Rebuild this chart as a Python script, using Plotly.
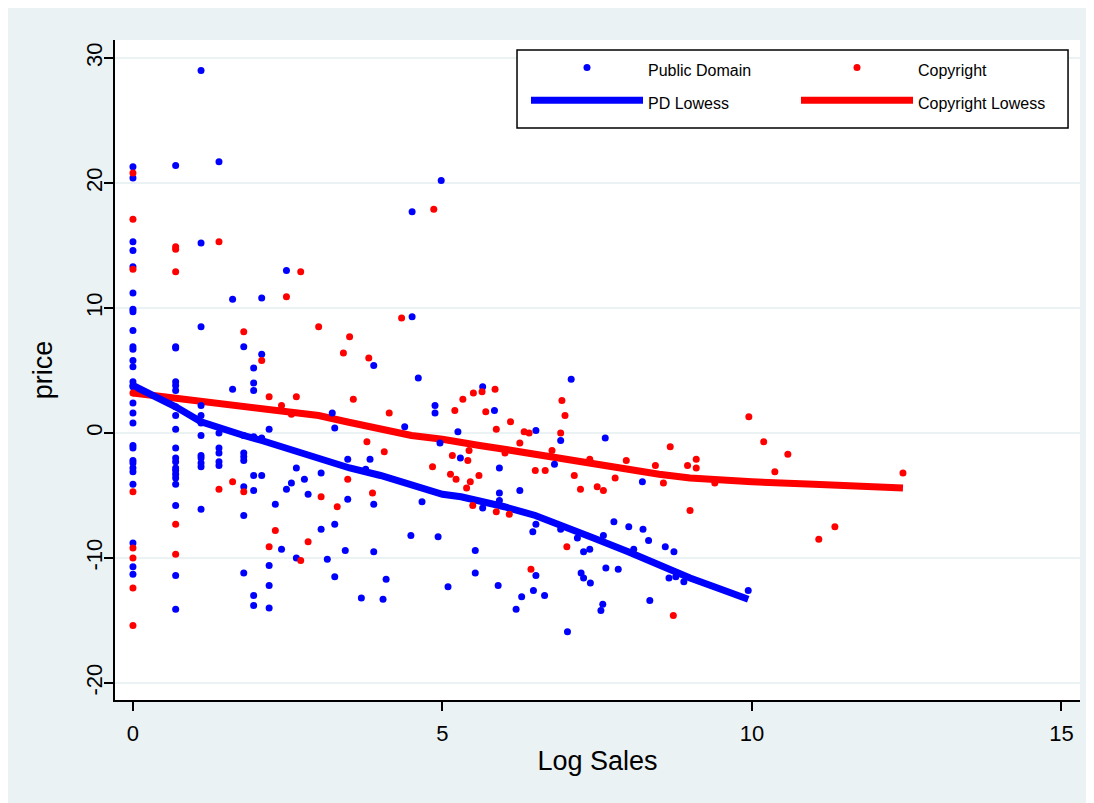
import plotly.graph_objects as go

# ---------------- data ----------------
# Public Domain: log-sales levels and the prices observed at each level
pd_sales_levels = [0.00, 0.69, 1.10, 1.39, 1.61, 1.79, 1.95, 2.08, 2.20, 2.30, 2.40, 2.48, 2.56, 2.64,
                   2.77, 2.83, 3.04, 3.14, 3.22, 3.26, 3.43, 3.47, 3.69, 3.76, 3.83, 3.89, 4.04, 4.09,
                   4.39, 4.49, 4.51, 4.61, 4.67, 4.88, 4.93, 4.96, 4.98, 5.09, 5.25, 5.29, 5.53, 5.65,
                   5.84, 5.90, 5.92, 6.19, 6.25, 6.28, 6.46, 6.47, 6.51, 6.65, 6.81, 6.91, 7.02, 7.08,
                   7.18, 7.24, 7.28, 7.38, 7.39, 7.56, 7.59, 7.60, 7.63, 7.64, 7.77, 7.84, 8.01, 8.09,
                   8.23, 8.24, 8.33, 8.35, 8.60, 8.66, 8.74, 8.77, 8.90, 9.94]
pd_prices = [
    [21.3, 20.4, 15.3, 14.6, 13.3, 11.2, 9.9, 9.7, 8.2, 6.9, 6.7, 5.8, 5.3, 4.1, 3.8, 3.7, 2.4, 1.6, 0.8,
     -1.0, -1.2, -2.2, -2.4, -2.8, -3.1, -4.1, -8.8, -10.7, -11.3],
    [21.4, 6.9, 6.8, 4.1, 3.8, 3.4, 2.1, 1.4, 0.3, -1.2, -2.0, -2.3, -2.8, -3.0, -3.3, -3.6, -4.1, -5.8,
     -11.4, -14.1],
    [29.0, 15.2, 8.5, 2.2, 1.4, 0.8, -0.2, -1.8, -2.0, -2.4, -2.7, -6.1],
    [21.7, 0.0, -1.2, -1.6, -2.3, -2.6],
    [10.7, 3.5],
    [6.9, -0.2, -1.6, -1.9, -2.2, -4.3, -6.6, -11.2],
    [5.2, 4.0, 3.4, -0.3, -3.4, -4.6, -13.0, -13.8],
    [10.8, 6.3, -0.4, -3.4],
    [0.3, -10.6, -12.2, -14.0],
    [-5.7], [-9.3], [13.0, -4.5], [-4.0], [-2.8, -10.0],
    [-3.7], [-4.9], [-3.2, -7.7], [-10.1], [1.6], [0.4, -7.3, -11.5], [-9.4], [-2.1, -5.3], [-13.2],
    [-2.9], [-2.1], [5.4, -5.7, -9.5], [-13.3], [-11.7],
    [0.5], [-8.2], [17.7, 9.3], [4.4], [-5.5], [2.2, 1.6], [-8.3], [-0.8], [20.2], [-12.3], [0.1],
    [-2.0], [-9.4, -11.2], [3.7, -6.0],
    [1.8], [-12.2], [-2.8, -4.8, -5.4], [-14.1], [-4.6], [-13.1], [-7.9], [-12.6], [0.2, -7.3, -11.4],
    [-13.0], [-2.5], [-0.6, -7.7], [-15.9], [4.3],
    [-8.4], [-11.2], [-9.5, -11.6], [-9.3], [-12.0], [-14.2], [-13.7], [-8.2], [-0.4], [-10.8], [-7.1],
    [-10.9], [-7.5], [-9.3],
    [-3.9], [-7.7], [-8.6], [-13.4], [-9.1], [-11.6], [-9.5], [-11.5], [-11.9], [-12.6],
]

# Copyright
cr_sales_levels = [0.00, 0.69, 1.39, 1.61, 1.79, 2.08, 2.20, 2.30, 2.40, 2.48, 2.56, 2.64, 2.71, 2.83,
                   3.00, 3.04, 3.30, 3.40, 3.47, 3.50, 3.56, 3.78, 3.81, 3.87, 4.06, 4.14, 4.34, 4.84,
                   4.86, 5.13, 5.16, 5.20, 5.22, 5.33, 5.39, 5.41, 5.43, 5.45, 5.49, 5.50, 5.59, 5.64,
                   5.70, 5.85, 5.87, 6.01, 6.08, 6.10, 6.25, 6.32, 6.40, 6.43, 6.50, 6.66, 6.77, 6.91,
                   6.93, 6.98, 7.01, 7.13, 7.23, 7.38, 7.50, 7.60, 7.79, 7.97, 8.44, 8.57, 8.68, 8.73,
                   8.96, 9.00, 9.10, 9.40, 9.95, 10.19, 10.37, 10.58, 11.08, 11.34, 12.44]
cr_prices = [
    [20.8, 17.1, 13.1, 3.2, -4.7, -9.2, -10.0, -12.4, -15.4],
    [14.9, 14.7, 12.9, -7.3, -9.7],
    [15.3, -4.5], [-3.9], [8.1, -4.7], [5.8], [2.9, -9.1], [-7.8], [2.2], [10.9], [1.5], [2.9],
    [12.9, -10.2], [-8.7],
    [8.5], [-5.1], [-5.9], [6.4], [-3.7], [7.7], [2.7], [-0.7], [6.0], [-4.8], [-1.5], [1.6], [9.2],
    [-2.7],
    [17.9], [-3.3], [-1.8], [1.8], [-3.7], [2.7], [-4.4], [-2.2], [-1.4], [-3.9], [-5.8], [3.2], [-3.4],
    [3.3],
    [1.7], [3.5], [0.3, -6.3], [-1.6], [-6.5], [0.9], [-0.8], [0.1], [0.0], [-10.9], [-3.0], [-3.0],
    [-1.4], [0.0],
    [2.6], [1.4], [-9.1], [-3.4], [-4.5], [-2.1], [-4.3], [-4.6], [-3.6], [-2.2], [-2.6], [-4.0], [-1.1],
    [-14.6],
    [-2.6], [-6.2], [-2.1, -2.8], [-4.0], [1.3], [-0.7], [-3.1], [-1.7], [-8.5], [-7.5], [-3.2],
]

# Lowess curves
pd_lowess_x = [0.00, 0.69, 1.10, 1.39, 1.79, 2.08, 2.40, 2.70, 3.00, 3.50, 4.00, 4.50, 5.00, 5.30,
               5.60, 6.00, 6.50, 7.00, 7.44, 8.00, 8.50, 9.00, 9.50, 9.94]
pd_lowess_y = [3.8, 2.1, 0.9, 0.4, -0.2, -0.6, -1.1, -1.6, -2.1, -2.8, -3.4, -4.1, -4.9, -5.1,
               -5.4, -5.9, -6.6, -7.5, -8.4, -9.5, -10.6, -11.6, -12.5, -13.3]
cr_lowess_x = [0.00, 0.69, 1.10, 1.50, 2.08, 2.70, 3.00, 3.45, 4.00, 4.50, 5.00, 5.30, 5.60, 6.00,
               6.50, 6.90, 7.50, 8.00, 8.50, 9.00, 9.50, 10.00, 11.00, 12.44]
cr_lowess_y = [3.2, 2.8, 2.5, 2.3, 2.0, 1.7, 1.4, 0.9, 0.3, -0.2, -0.5, -0.8, -1.0, -1.3,
               -1.7, -2.0, -2.6, -2.9, -3.3, -3.6, -3.8, -3.9, -4.1, -4.4]

x_ticks = [0, 5, 10, 15]
y_ticks = [-20, -10, 0, 10, 20, 30]
y_tick_labels = ["-20", "-10", "0", "10", "20", "30"]
legend_names = ["Public Domain", "Copyright", "PD Lowess", "Copyright Lowess"]


def flatten(levels, groups):
    xs, ys = [], []
    for lv, grp in zip(levels, groups):
        for v in grp:
            xs.append(lv)
            ys.append(v)
    return xs, ys


def leg(name):
    # legend rows are spaced by the (larger) legend font; the label itself is drawn at 16px
    return "<span style='font-size:16px'>" + name + "</span>"


pd_x, pd_y = flatten(pd_sales_levels, pd_prices)
cr_x, cr_y = flatten(cr_sales_levels, cr_prices)

BLUE = "#0000FF"
RED = "#FF0000"
BG = "#EAF2F3"
FONT = "Liberation Sans, Arial, sans-serif"

fig = go.Figure()
# drawing order: lines under the points (as in the reference); legend order via legendrank
fig.add_trace(go.Scatter(x=cr_lowess_x, y=cr_lowess_y, mode="lines", name=leg(legend_names[3]),
                         line=dict(color=RED, width=7), legend="legend2", legendrank=2))
fig.add_trace(go.Scatter(x=pd_lowess_x, y=pd_lowess_y, mode="lines", name=leg(legend_names[2]),
                         line=dict(color=BLUE, width=7), legend="legend", legendrank=2))
fig.add_trace(go.Scatter(x=pd_x, y=pd_y, mode="markers", name=leg(legend_names[0]),
                         marker=dict(color=BLUE, size=7, line=dict(width=0)), legend="legend", legendrank=1))
fig.add_trace(go.Scatter(x=cr_x, y=cr_y, mode="markers", name=leg(legend_names[1]),
                         marker=dict(color=RED, size=7, line=dict(width=0)), legend="legend2", legendrank=1))

axis_common = dict(
    showline=True, linecolor="black", linewidth=1.5, mirror=False,
    ticks="outside", ticklen=9, tickwidth=1.5, tickcolor="black",
    tickfont=dict(size=22, color="black", family=FONT),
    zeroline=False, automargin=False,
)

fig.update_xaxes(range=[-0.29, 15.30], tickvals=x_ticks, showgrid=False, ticklabelstandoff=4,
                 title=dict(text="Log Sales", font=dict(size=27, color="black", family=FONT), standoff=6),
                 **axis_common)
fig.update_yaxes(range=[-21.36, 31.44], tickvals=y_ticks, ticktext=y_tick_labels,
                 showgrid=True, gridcolor=BG, gridwidth=2,
                 tickangle=-90, ticklabelstandoff=-7,
                 title=dict(text="price", font=dict(size=27, color="black", family=FONT), standoff=22),
                 **axis_common)

legend_common = dict(
    orientation="v", y=0.9909, xanchor="left", yanchor="top", xref="paper", yref="paper",
    bgcolor="rgba(0,0,0,0)", borderwidth=0,
    font=dict(size=23, color="black", family=FONT),
    itemwidth=112, traceorder="normal",
)

fig.update_layout(
    width=1086, height=795,
    margin=dict(l=107, r=14, t=32, b=103, pad=0),
    paper_bgcolor=BG, plot_bgcolor="white",
    font=dict(family=FONT, color="black"),
    showlegend=True,
    legend=dict(x=0.4259, **legend_common),
    legend2=dict(x=0.7057, **legend_common),
    # frame of the two-column legend key
    shapes=[dict(type="rect", xref="paper", yref="paper", x0=0.4166, x1=0.9876, y0=0.8667, y1=0.9848,
                 fillcolor="white", line=dict(color="black", width=1.5), layer="above")],
)

fig.write_html("out.html")
